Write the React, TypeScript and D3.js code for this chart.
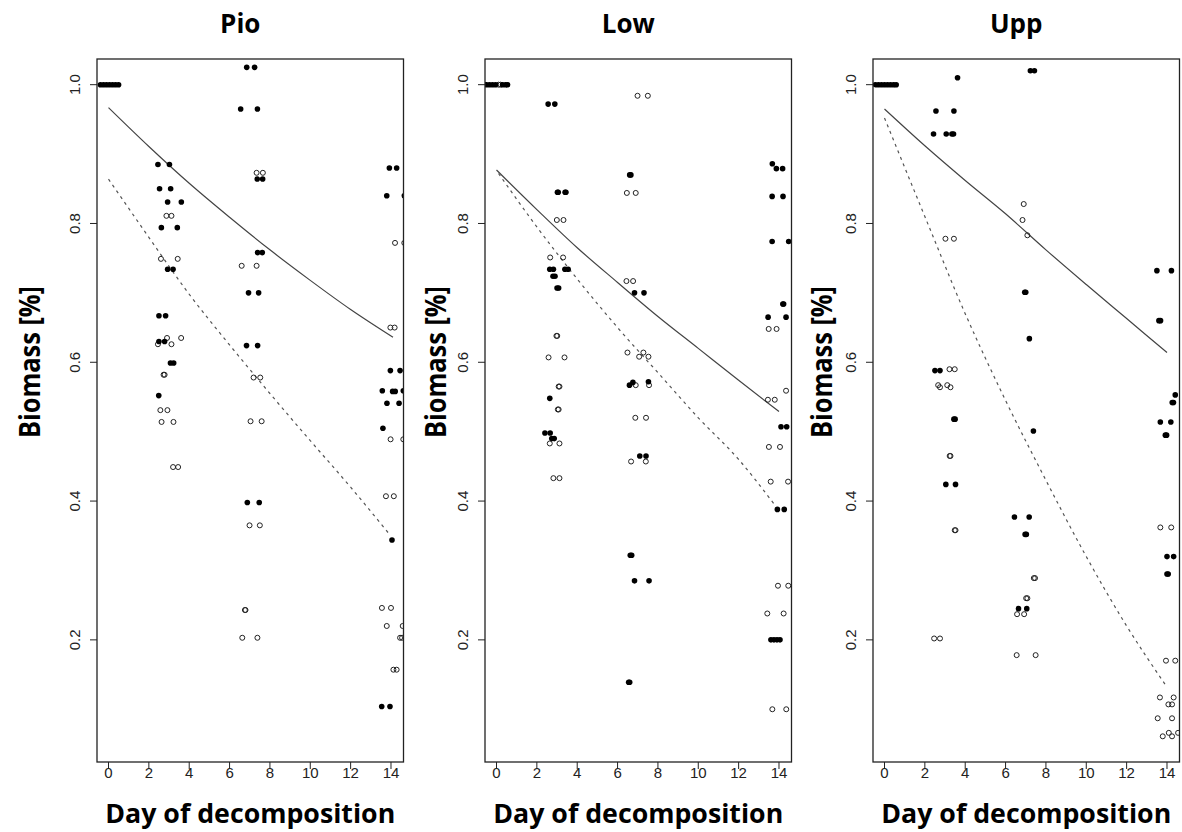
import React from 'react';
import * as d3 from 'd3';

type Pt = [number, number];

// ---- data (day of decomposition, biomass fraction) ----
const panelTitles = ['Pio', 'Low', 'Upp'];
const dayTicks = [0, 2, 4, 6, 8, 10, 12, 14];
const biomassTicks = [0.2, 0.4, 0.6, 0.8, 1.0];

const pioFilled: Pt[] = [
  [-0.4, 1], [-0.25, 1], [-0.1, 1], [0.05, 1], [0.2, 1], [0.35, 1], [0.5, 1],
  [6.85, 1.025], [7.24, 1.025], [6.55, 0.965], [7.38, 0.965],
  [2.45, 0.885], [3.02, 0.885], [2.53, 0.85], [3.08, 0.85], [2.93, 0.831], [3.61, 0.831],
  [2.62, 0.794], [3.41, 0.794], [7.37, 0.864], [7.64, 0.864], [7.39, 0.758], [7.62, 0.758],
  [2.93, 0.734], [3.2, 0.734], [6.94, 0.7], [7.44, 0.7], [2.5, 0.667], [2.83, 0.667],
  [13.92, 0.88], [14.28, 0.88], [13.79, 0.84], [14.66, 0.84],
  [2.5, 0.63], [2.78, 0.63], [3.07, 0.599], [3.23, 0.599], [2.49, 0.552],
  [6.84, 0.624], [7.39, 0.624], [6.88, 0.398], [7.47, 0.398],
  [13.97, 0.588], [14.45, 0.588], [13.57, 0.559], [14.08, 0.558], [14.21, 0.558], [14.61, 0.559],
  [13.8, 0.541], [14.4, 0.541], [13.6, 0.505], [14.05, 0.344], [13.54, 0.104], [13.95, 0.104],
];
const pioOpen: Pt[] = [
  [7.34, 0.873], [7.65, 0.873], [2.87, 0.811], [3.12, 0.811], [2.6, 0.749], [3.43, 0.749],
  [6.6, 0.739], [7.34, 0.739], [14.2, 0.772], [14.66, 0.772],
  [2.9, 0.635], [3.6, 0.635], [2.45, 0.626], [3.12, 0.626], [2.73, 0.582], [2.78, 0.582],
  [2.57, 0.531], [2.92, 0.531], [2.63, 0.514], [3.22, 0.514], [3.2, 0.449], [3.45, 0.449],
  [7.19, 0.578], [7.52, 0.578], [7.04, 0.515], [7.59, 0.515], [6.99, 0.365], [7.5, 0.365],
  [13.97, 0.65], [14.18, 0.65], [13.98, 0.489], [14.61, 0.489], [13.75, 0.407], [14.14, 0.407],
  [6.76, 0.243], [6.79, 0.243], [6.63, 0.203], [7.38, 0.203], [13.55, 0.246], [14.0, 0.246],
  [13.79, 0.22], [14.58, 0.22], [14.45, 0.203], [14.55, 0.203], [14.12, 0.157], [14.28, 0.157],
];
const pioSolid: Pt[] = [[0, 0.967], [2, 0.911], [4, 0.858], [6, 0.809], [8, 0.762], [10, 0.718], [12, 0.676], [14.1, 0.636]];
const pioDashed: Pt[] = [[0, 0.864], [2, 0.78], [4, 0.698], [6, 0.625], [8, 0.555], [10, 0.487], [12, 0.42], [13.9, 0.353]];

const lowFilled: Pt[] = [
  [-0.5, 1], [-0.35, 1], [-0.2, 1], [-0.05, 1], [0.3, 1], [0.45, 1], [0.55, 1],
  [2.56, 0.972], [2.89, 0.972], [3.02, 0.845], [3.06, 0.845], [3.4, 0.845], [3.44, 0.845],
  [6.6, 0.87], [6.66, 0.87], [2.64, 0.734], [2.82, 0.734], [3.39, 0.734], [3.55, 0.734],
  [2.8, 0.724], [2.9, 0.724], [3.0, 0.707], [3.08, 0.707], [6.84, 0.7], [7.31, 0.7],
  [13.67, 0.886], [13.87, 0.879], [14.18, 0.879], [13.66, 0.839], [14.2, 0.839],
  [13.66, 0.774], [14.48, 0.774], [14.19, 0.684], [14.23, 0.684], [13.46, 0.665], [14.35, 0.665],
  [2.64, 0.548], [2.4, 0.498], [2.66, 0.498], [2.74, 0.49], [2.86, 0.49],
  [6.59, 0.567], [6.76, 0.571], [7.53, 0.572], [7.1, 0.465], [7.41, 0.465], [6.63, 0.322], [6.7, 0.322],
  [14.1, 0.507], [14.38, 0.507], [13.92, 0.388], [14.26, 0.388], [6.84, 0.285], [7.56, 0.285],
  [6.55, 0.139], [6.6, 0.139], [13.6, 0.2], [13.75, 0.2], [13.9, 0.2], [14.05, 0.2],
];
const lowOpen: Pt[] = [
  [0.1, 1], [0.2, 1],
  [6.99, 0.984], [7.5, 0.984], [6.46, 0.844], [6.9, 0.844], [2.99, 0.805], [3.32, 0.805],
  [2.66, 0.751], [3.3, 0.751], [6.44, 0.717], [6.77, 0.717], [2.97, 0.638], [3.01, 0.638],
  [2.58, 0.607], [3.37, 0.607], [3.08, 0.565], [3.12, 0.565], [3.04, 0.532], [3.08, 0.532],
  [2.64, 0.483], [3.12, 0.483], [2.82, 0.433], [3.12, 0.433],
  [6.49, 0.614], [7.07, 0.608], [7.28, 0.614], [7.53, 0.608], [6.9, 0.567], [7.56, 0.567],
  [6.88, 0.52], [7.41, 0.52], [6.67, 0.457], [7.4, 0.457],
  [13.49, 0.648], [13.88, 0.648], [14.35, 0.559], [13.45, 0.546], [13.79, 0.546],
  [13.5, 0.478], [14.05, 0.478], [13.59, 0.428], [14.45, 0.428], [13.95, 0.278], [14.46, 0.278],
  [13.42, 0.238], [14.23, 0.238], [13.67, 0.1], [14.36, 0.1],
];
const lowSolid: Pt[] = [[0, 0.877], [2, 0.82], [4, 0.765], [6, 0.715], [8, 0.666], [10, 0.62], [12, 0.574], [14, 0.529]];
const lowDashed: Pt[] = [[0.1, 0.872], [2, 0.795], [4, 0.72], [6, 0.65], [8, 0.585], [10, 0.52], [12, 0.46], [13.8, 0.394]];

const uppFilled: Pt[] = [
  [-0.45, 1], [-0.3, 1], [-0.15, 1], [0, 1], [0.15, 1], [0.3, 1], [0.45, 1], [0.58, 1],
  [3.62, 1.01], [7.23, 1.02], [7.43, 1.02], [2.55, 0.962], [3.44, 0.962],
  [2.43, 0.929], [3.06, 0.929], [3.34, 0.929], [3.42, 0.929], [6.95, 0.701], [7.0, 0.701],
  [13.5, 0.732], [14.22, 0.732], [13.6, 0.66], [13.68, 0.66], [7.18, 0.634],
  [2.5, 0.588], [2.75, 0.588], [3.44, 0.518], [3.5, 0.518], [7.38, 0.501],
  [3.04, 0.424], [3.52, 0.424], [6.44, 0.377], [7.17, 0.377], [6.97, 0.352], [7.03, 0.352],
  [14.41, 0.553], [14.26, 0.542], [14.32, 0.542], [13.67, 0.514], [14.19, 0.514],
  [13.92, 0.495], [13.98, 0.495], [14.0, 0.32], [14.33, 0.32], [14.0, 0.295], [14.06, 0.295],
  [6.64, 0.245], [7.05, 0.245],
];
const uppOpen: Pt[] = [
  [6.9, 0.828], [6.84, 0.805], [7.08, 0.783], [3.02, 0.778], [3.44, 0.778],
  [3.22, 0.59], [3.48, 0.59], [2.66, 0.567], [2.75, 0.564], [3.11, 0.567], [3.27, 0.564],
  [3.23, 0.465], [3.27, 0.465], [3.48, 0.358], [3.52, 0.358], [13.67, 0.362], [14.21, 0.362],
  [7.4, 0.289], [7.46, 0.289], [7.02, 0.26], [7.08, 0.26], [6.57, 0.237], [6.92, 0.237],
  [2.46, 0.202], [2.75, 0.202], [6.55, 0.178], [7.49, 0.178], [13.95, 0.17], [14.41, 0.17],
  [13.65, 0.117], [14.33, 0.117], [14.07, 0.107], [14.25, 0.107], [13.54, 0.087], [14.25, 0.087],
  [13.79, 0.061], [14.09, 0.066], [14.25, 0.061], [14.55, 0.066],
];
const uppSolid: Pt[] = [[0, 0.965], [2, 0.912], [4, 0.862], [6, 0.814], [8, 0.762], [10, 0.712], [12, 0.663], [14, 0.614]];
const uppDashed: Pt[] = [[0, 0.952], [2, 0.81], [4, 0.67], [6, 0.545], [8, 0.43], [10, 0.32], [12, 0.22], [14, 0.132]];

const panels = [
  { title: panelTitles[0], filled: pioFilled, open: pioOpen, solid: pioSolid, dashed: pioDashed },
  { title: panelTitles[1], filled: lowFilled, open: lowOpen, solid: lowSolid, dashed: lowDashed },
  { title: panelTitles[2], filled: uppFilled, open: uppOpen, solid: uppSolid, dashed: uppDashed },
];

// ---- layout ----
const W = 1182;
const H = 832;
const plotTop = 59;
const plotBottom = 762;
const plotWidth = 306.5;
const plotLefts = [97, 485, 873];
const ylabX = [40, 446, 832];

const labelFont = '"Open Sans", "DejaVu Sans", sans-serif';
const tickFont = '"Liberation Sans", Arial, sans-serif';

const y = d3.scaleLinear().domain([0.024, 1.037]).range([plotBottom, plotTop]);

function Panel({ p, i }: { p: (typeof panels)[number]; i: number }) {
  const left = plotLefts[i];
  const x = d3.scaleLinear().domain([-0.57, 14.62]).range([left, left + plotWidth]);
  const line = d3
    .line<Pt>()
    .x((d) => x(d[0]))
    .y((d) => y(d[1]))
    .curve(d3.curveMonotoneX);
  const cx = left + plotWidth / 2;
  const clipId = `clip-${i}`;

  return (
    <g>
      <clipPath id={clipId}>
        <rect x={left} y={plotTop} width={plotWidth} height={plotBottom - plotTop} />
      </clipPath>

      <text x={cx - 10} y={33} textAnchor="middle" fontFamily={labelFont} fontWeight="bold" fontSize={26}>
        {p.title}
      </text>

      <g clipPath={`url(#${clipId})`}>
        <path d={line(p.solid) || ''} fill="none" stroke="#444" strokeWidth={1.2} />
        <path d={line(p.dashed) || ''} fill="none" stroke="#555" strokeWidth={1.2} strokeDasharray="3,4" />
        {p.open.map((d, k) => (
          <circle key={'o' + k} cx={x(d[0])} cy={y(d[1])} r={2.5} fill="none" stroke="#222" strokeWidth={1} />
        ))}
        {p.filled.map((d, k) => (
          <circle key={'f' + k} cx={x(d[0])} cy={y(d[1])} r={2.8} fill="#000" />
        ))}
      </g>

      <rect x={left} y={plotTop} width={plotWidth} height={plotBottom - plotTop} fill="none" stroke="#222" strokeWidth={1.3} />

      {dayTicks.map((t) => (
        <g key={'x' + t}>
          <line x1={x(t)} x2={x(t)} y1={plotBottom} y2={plotBottom + 7} stroke="#222" />
          <text x={x(t)} y={plotBottom + 16} textAnchor="middle" fontFamily={tickFont} fontSize={15} fill="#222">
            {t}
          </text>
        </g>
      ))}
      {biomassTicks.map((t) => (
        <g key={'y' + t}>
          <line x1={left - 7} x2={left} y1={y(t)} y2={y(t)} stroke="#222" />
          <text
            transform={`translate(${left - 17},${y(t)}) rotate(-90)`}
            textAnchor="middle"
            fontFamily={tickFont}
            fontSize={15}
            fill="#222"
          >
            {d3.format('.1f')(t)}
          </text>
        </g>
      ))}

      <text
        x={cx}
        y={823}
        textAnchor="middle"
        fontFamily={labelFont}
        fontWeight="bold"
        fontSize={27}
        textLength={290}
        lengthAdjust="spacingAndGlyphs"
      >
        Day of decomposition
      </text>
      <text
        transform={`translate(${ylabX[i]},362) rotate(-90)`}
        textAnchor="middle"
        fontFamily={labelFont}
        fontWeight="bold"
        fontSize={28}
        textLength={152}
        lengthAdjust="spacingAndGlyphs"
      >
        Biomass [%]
      </text>
    </g>
  );
}

export default function App() {
  return (
    <svg
      width={W}
      height={H}
      viewBox={`0 0 ${W} ${H}`}
      style={{ position: 'absolute', left: 0, top: 0, background: '#fff' }}
    >
      <rect width={W} height={H} fill="#fff" />
      {panels.map((p, i) => (
        <Panel key={p.title} p={p} i={i} />
      ))}
    </svg>
  );
}
